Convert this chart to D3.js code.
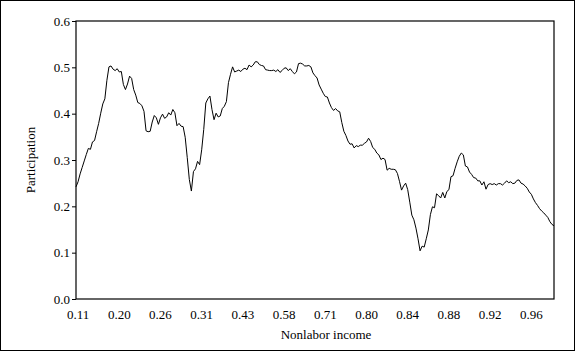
<!DOCTYPE html>
<html>
<head>
<meta charset="utf-8">
<script src="https://cdn.jsdelivr.net/npm/d3@7"></script>
<style>
  body { margin: 0; background: #fff; }
  svg text { font-family: "Liberation Serif", "Times New Roman", serif !important; fill: #000; }
</style>
</head>
<body>
<div class="chart"></div>
<script>
var svgWidth = 579;
var svgHeight = 352;

var margin = { top: 21, right: 25, bottom: 53, left: 76 };

var width = svgWidth - margin.left - margin.right;
var height = svgHeight - margin.top - margin.bottom;

var serif = "Liberation Serif, Times New Roman, serif";

// participation rate, one value per observation (sorted by nonlabor income)
var participation = [
  0.242, 0.253, 0.270, 0.284, 0.298, 0.312, 0.325, 0.323, 0.339, 0.342,
  0.361, 0.379, 0.401, 0.421, 0.432, 0.472, 0.501, 0.503, 0.496, 0.493,
  0.497, 0.490, 0.491, 0.463, 0.452, 0.464, 0.481, 0.476, 0.452, 0.440,
  0.424, 0.422, 0.417, 0.405, 0.363, 0.361, 0.362, 0.382, 0.396, 0.391,
  0.377, 0.391, 0.399, 0.390, 0.393, 0.402, 0.397, 0.409, 0.402, 0.374,
  0.379, 0.373, 0.372, 0.349, 0.305, 0.258, 0.233, 0.275, 0.281, 0.297,
  0.290, 0.322, 0.366, 0.423, 0.432, 0.438, 0.409, 0.387, 0.401, 0.393,
  0.395, 0.411, 0.416, 0.426, 0.467, 0.485, 0.501, 0.490, 0.492, 0.494,
  0.491, 0.496, 0.498, 0.495, 0.505, 0.501, 0.505, 0.512, 0.512, 0.506,
  0.504, 0.503, 0.495, 0.494, 0.493, 0.493, 0.494, 0.491, 0.495, 0.489,
  0.493, 0.498, 0.499, 0.493, 0.497, 0.491, 0.486, 0.490, 0.508, 0.509,
  0.507, 0.503, 0.503, 0.504, 0.501, 0.488, 0.482, 0.477, 0.462, 0.453,
  0.444, 0.437, 0.436, 0.423, 0.413, 0.407, 0.411, 0.406, 0.404, 0.381,
  0.362, 0.353, 0.341, 0.334, 0.335, 0.326, 0.331, 0.329, 0.332, 0.332,
  0.336, 0.339, 0.347, 0.340, 0.327, 0.323, 0.315, 0.311, 0.301, 0.304,
  0.301, 0.278, 0.282, 0.280, 0.280, 0.279, 0.271, 0.254, 0.235, 0.244,
  0.250, 0.236, 0.209, 0.181, 0.171, 0.153, 0.130, 0.104, 0.114, 0.112,
  0.130, 0.149, 0.182, 0.199, 0.197, 0.227, 0.223, 0.218, 0.230, 0.218,
  0.232, 0.236, 0.264, 0.266, 0.282, 0.296, 0.308, 0.315, 0.311, 0.287,
  0.285, 0.274, 0.269, 0.262, 0.261, 0.255, 0.255, 0.246, 0.253, 0.237,
  0.247, 0.249, 0.247, 0.249, 0.246, 0.249, 0.249, 0.246, 0.250, 0.255,
  0.251, 0.253, 0.249, 0.250, 0.256, 0.257, 0.250, 0.248, 0.244, 0.239,
  0.231, 0.226, 0.216, 0.208, 0.202, 0.195, 0.190, 0.186, 0.181, 0.176,
  0.167, 0.161, 0.158
];

// nonlabor income shown under every 20th observation, starting at obs 1
var incomeLabels = ["0.11", "0.20", "0.26", "0.31", "0.43", "0.58",
  "0.71", "0.80", "0.84", "0.88", "0.92", "0.96"];
var labelStart = 1;
var labelStep = 20;

var yTicks = [0.0, 0.1, 0.2, 0.3, 0.4, 0.5, 0.6];

var svg = d3.select(".chart")
  .append("svg")
  .attr("width", svgWidth)
  .attr("height", svgHeight)
  .attr("font-family", serif);

// outer frame
svg.append("rect")
  .attr("x", 0.5)
  .attr("y", 0.5)
  .attr("width", 574)
  .attr("height", 350)
  .attr("fill", "none")
  .attr("stroke", "#000")
  .attr("stroke-width", 1);

var chart = svg.append("g")
  .attr("transform", "translate(" + margin.left + "," + margin.top + ")");

var xScale = d3.scaleLinear()
  .domain([0, participation.length - 1])
  .range([0, width]);

var yScale = d3.scaleLinear()
  .domain([0, 0.6])
  .range([height, 0]);

// plot box
chart.append("rect")
  .attr("x", 0)
  .attr("y", 0)
  .attr("width", width)
  .attr("height", height)
  .attr("fill", "none")
  .attr("stroke", "#000")
  .attr("stroke-width", 1.2);

var leftAxis = d3.axisLeft(yScale)
  .tickValues(yTicks)
  .tickFormat(d3.format(".1f"))
  .tickSize(4)
  .tickPadding(2);

var yAxis = chart.append("g").call(leftAxis)
  .attr("font-family", serif)
  .attr("font-size", 13);
yAxis.select(".domain").remove();

// x labels sit under their observations, no tick marks
chart.selectAll(".xlab")
  .data(incomeLabels)
  .enter().append("text")
  .attr("class", "xlab")
  .attr("x", function(d, i) { return xScale(labelStart + i * labelStep); })
  .attr("y", height + 20)
  .attr("text-anchor", "middle")
  .attr("font-size", 13)
  .text(function(d) { return d; });

var line = d3.line()
  .x(function(d, i) { return xScale(i); })
  .y(function(d) { return yScale(d); });

chart.append("path")
  .datum(participation)
  .attr("fill", "none")
  .attr("stroke", "#000")
  .attr("stroke-width", 1)
  .attr("d", line);

chart.append("text")
  .attr("transform", "rotate(-90)")
  .attr("x", -height / 2)
  .attr("y", -41)
  .attr("text-anchor", "middle")
  .attr("font-size", 13)
  .text("Participation");

chart.append("text")
  .attr("x", 250)
  .attr("y", height + 40)
  .attr("text-anchor", "middle")
  .attr("font-size", 13)
  .text("Nonlabor income");
</script>
</body>
</html>
